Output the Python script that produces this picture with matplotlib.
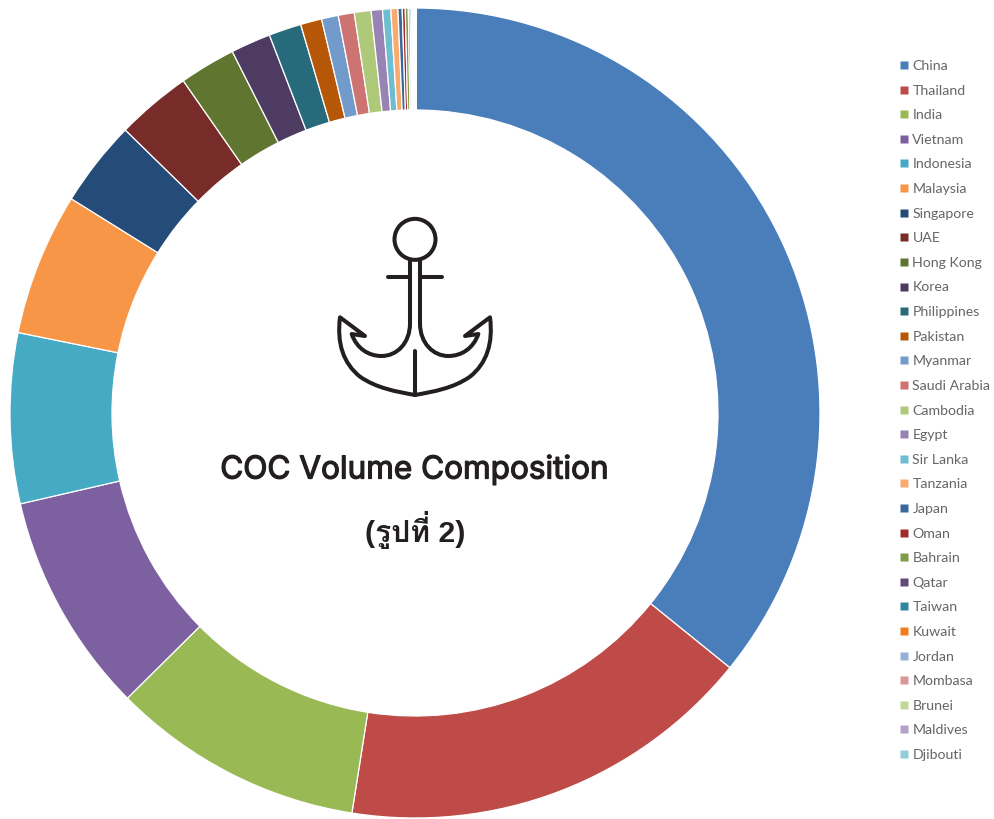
"""COC volume composition donut with anchor icon in the hole."""
import matplotlib
matplotlib.use("Agg")
import matplotlib.pyplot as plt
import matplotlib.patheffects as pe
from matplotlib import font_manager as fm
from matplotlib.lines import Line2D
from matplotlib.patches import Circle, PathPatch
from matplotlib.path import Path
from matplotlib.ft2font import FT2Font

COUNTRIES = ["China", "Thailand", "India", "Vietnam", "Indonesia", "Malaysia",
             "Singapore", "UAE", "Hong Kong", "Korea", "Philippines", "Pakistan",
             "Myanmar", "Saudi Arabia", "Cambodia", "Egypt", "Sir Lanka", "Tanzania",
             "Japan", "Oman", "Bahrain", "Qatar", "Taiwan", "Kuwait", "Jordan",
             "Mombasa", "Brunei", "Maldives", "Djibouti"]
# share of volume in percent
SHARES = [35.85, 16.7, 10.1, 8.85, 6.8, 5.7,
          3.45, 3.0, 2.25, 1.6, 1.3, 0.85,
          0.67, 0.64, 0.67, 0.45, 0.33, 0.28,
          0.17, 0.12, 0.12, 0.07, 0.06, 0.05, 0.04,
          0.03, 0.03, 0.02, 0.02]
COLORS = ["#4a7ebb", "#be4b48", "#98b954", "#7d60a0", "#46aac5", "#f79646",
          "#254b78", "#772c2a", "#5f7530", "#4d3b62", "#276a7c", "#b65708",
          "#729aca", "#cd7371", "#afc97a", "#9983b5", "#6fbdd1", "#f9aa6e",
          "#3a679c", "#a02b2b", "#7f9a48", "#604a7b", "#31859c", "#f07c1c",
          "#95b3d7", "#d99694", "#c3d69b", "#b3a2c7", "#92cddc"]
TITLE = "COC Volume Composition"
SUBTITLE = "(รูปที่ 2)"

W, H = 995, 819
INK = "#231f20"


def thai_family():
    # first installed family that actually carries Thai glyphs
    for f in fm.fontManager.ttflist:
        try:
            if 0x0E23 in FT2Font(f.fname).get_charmap():
                return [f.name]
        except Exception:
            pass
    return []


def z(x, y):
    # icon was traced on a 3x crop starting at pixel (200, 200)
    return 200 + x / 3, H - (200 + y / 3)


def anchor(ax):
    lw = 2.9
    style = dict(fill=False, edgecolor=INK, lw=lw, capstyle="round", joinstyle="round")
    ax.add_patch(Circle(z(645, 118), 20.5, **style))
    arm = [(630, 180), (630, 370), (630, 430), (590, 468), (545, 468),
           (505, 468), (470, 445), (455, 402), (495, 408), (420, 352),
           (410, 430), (430, 490), (480, 530), (530, 565), (590, 575), (645, 585)]
    codes = [Path.MOVETO, Path.LINETO] + [Path.CURVE4] * 6 + [Path.LINETO, Path.LINETO] + [Path.CURVE4] * 6
    for mirror in (False, True):
        pts = [z(1290 - x if mirror else x, y) for x, y in arm]
        ax.add_patch(PathPatch(Path(pts, codes), **style))
    for seg in ([(565, 232), (630, 232)], [(660, 232), (725, 232)], [(645, 452), (645, 585)]):
        xs, ys = zip(*[z(*p) for p in seg])
        ax.plot(xs, ys, color=INK, lw=lw, solid_capstyle="round")


fig = plt.figure(figsize=(W / 100, H / 100), dpi=100, facecolor="white")
ax = fig.add_axes([0, 0, 1, 1])

ax.pie(SHARES, colors=COLORS, startangle=89.8, counterclock=False, radius=405,
       center=(415, H - 413), normalize=True,
       wedgeprops=dict(width=102, edgecolor="white", linewidth=0.9))
ax.set_xlim(0, W)
ax.set_ylim(0, H)
ax.set_aspect("equal")
ax.axis("off")

anchor(ax)

sans = ["Inter", "Liberation Sans", "DejaVu Sans"]
# Inter only comes in regular here, a thin stroke brings it up to medium weight
ax.text(414, H - 470, TITLE, ha="center", va="center", fontsize=22.7,
        color=INK, family=sans,
        path_effects=[pe.withStroke(linewidth=0.9, foreground=INK)])
ax.text(415, H - 530, SUBTITLE, ha="center", va="center", fontsize=21.7,
        fontweight="bold", color=INK, family=["Liberation Sans"] + thai_family() + ["DejaVu Sans"])

handles = [Line2D([], [], ls="none", marker="s", ms=5.5, color=c, mec="none") for c in COLORS]
ax.legend(handles, COUNTRIES, loc="upper left", bbox_to_anchor=(899.5, H - 60),
          bbox_transform=ax.transData, frameon=False, ncol=1,
          labelcolor="#666666", labelspacing=0.89, handlelength=0.7,
          handletextpad=0.21, borderpad=0, borderaxespad=0,
          prop=dict(family="Lato", size=10.2))

fig.savefig("out.png", dpi=100)
